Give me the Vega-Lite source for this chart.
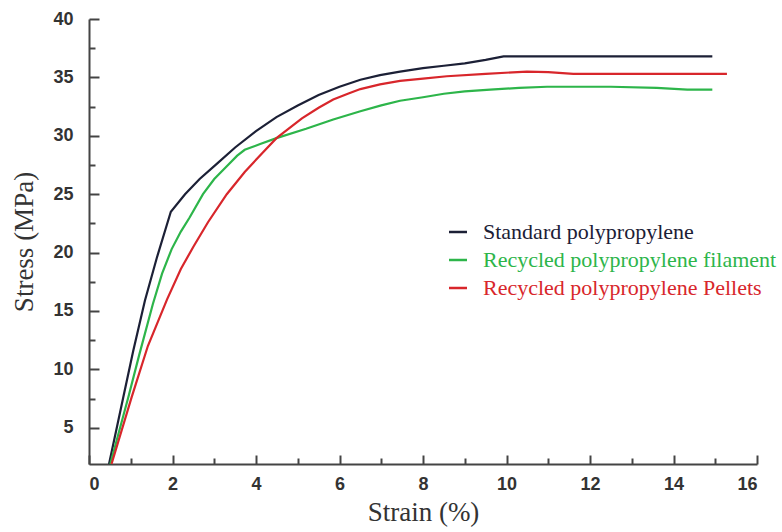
{
  "$schema": "https://vega.github.io/schema/vega-lite/v6.json",
  "width": 668,
  "height": 445,
  "autosize": {"type": "none"},
  "padding": {"left": 89, "top": 19, "right": 25, "bottom": 68},
  "background": "white",
  "config": {"view": {"stroke": null}},
  "data": {"values": [
    {"s": "Standard polypropylene", "x": 0.48, "y": 1.9},
    {"s": "Standard polypropylene", "x": 0.82, "y": 7.6},
    {"s": "Standard polypropylene", "x": 1.06, "y": 11.6},
    {"s": "Standard polypropylene", "x": 1.34, "y": 15.9},
    {"s": "Standard polypropylene", "x": 1.62, "y": 19.5},
    {"s": "Standard polypropylene", "x": 1.96, "y": 23.5},
    {"s": "Standard polypropylene", "x": 2.3, "y": 25.0},
    {"s": "Standard polypropylene", "x": 2.65, "y": 26.3},
    {"s": "Standard polypropylene", "x": 3.06, "y": 27.6},
    {"s": "Standard polypropylene", "x": 3.5, "y": 29.0},
    {"s": "Standard polypropylene", "x": 4.0, "y": 30.4},
    {"s": "Standard polypropylene", "x": 4.49, "y": 31.6},
    {"s": "Standard polypropylene", "x": 5.0, "y": 32.6},
    {"s": "Standard polypropylene", "x": 5.5, "y": 33.5},
    {"s": "Standard polypropylene", "x": 6.0, "y": 34.2},
    {"s": "Standard polypropylene", "x": 6.5, "y": 34.8},
    {"s": "Standard polypropylene", "x": 6.97, "y": 35.2},
    {"s": "Standard polypropylene", "x": 7.45, "y": 35.5},
    {"s": "Standard polypropylene", "x": 8.0, "y": 35.8},
    {"s": "Standard polypropylene", "x": 8.5, "y": 36.0},
    {"s": "Standard polypropylene", "x": 9.0, "y": 36.2},
    {"s": "Standard polypropylene", "x": 9.5, "y": 36.5},
    {"s": "Standard polypropylene", "x": 9.93, "y": 36.8},
    {"s": "Standard polypropylene", "x": 14.93, "y": 36.8},
    {"s": "Recycled polypropylene filament", "x": 0.51, "y": 1.9},
    {"s": "Recycled polypropylene filament", "x": 0.94, "y": 7.6},
    {"s": "Recycled polypropylene filament", "x": 1.2, "y": 11.2},
    {"s": "Recycled polypropylene filament", "x": 1.53, "y": 15.6},
    {"s": "Recycled polypropylene filament", "x": 1.75, "y": 18.2},
    {"s": "Recycled polypropylene filament", "x": 1.98, "y": 20.3},
    {"s": "Recycled polypropylene filament", "x": 2.2, "y": 21.8},
    {"s": "Recycled polypropylene filament", "x": 2.41, "y": 23.0},
    {"s": "Recycled polypropylene filament", "x": 2.73, "y": 25.0},
    {"s": "Recycled polypropylene filament", "x": 3.0, "y": 26.3},
    {"s": "Recycled polypropylene filament", "x": 3.3, "y": 27.4},
    {"s": "Recycled polypropylene filament", "x": 3.55, "y": 28.3},
    {"s": "Recycled polypropylene filament", "x": 3.73, "y": 28.8},
    {"s": "Recycled polypropylene filament", "x": 4.1, "y": 29.3},
    {"s": "Recycled polypropylene filament", "x": 4.49, "y": 29.8},
    {"s": "Recycled polypropylene filament", "x": 5.2, "y": 30.6},
    {"s": "Recycled polypropylene filament", "x": 5.85, "y": 31.4},
    {"s": "Recycled polypropylene filament", "x": 6.5, "y": 32.1},
    {"s": "Recycled polypropylene filament", "x": 7.0, "y": 32.6},
    {"s": "Recycled polypropylene filament", "x": 7.45, "y": 33.0},
    {"s": "Recycled polypropylene filament", "x": 8.0, "y": 33.3},
    {"s": "Recycled polypropylene filament", "x": 8.5, "y": 33.6},
    {"s": "Recycled polypropylene filament", "x": 9.0, "y": 33.8},
    {"s": "Recycled polypropylene filament", "x": 9.61, "y": 33.95},
    {"s": "Recycled polypropylene filament", "x": 10.3, "y": 34.1},
    {"s": "Recycled polypropylene filament", "x": 10.97, "y": 34.2},
    {"s": "Recycled polypropylene filament", "x": 12.5, "y": 34.2},
    {"s": "Recycled polypropylene filament", "x": 13.6, "y": 34.1},
    {"s": "Recycled polypropylene filament", "x": 14.33, "y": 33.95},
    {"s": "Recycled polypropylene filament", "x": 14.93, "y": 33.95},
    {"s": "Recycled polypropylene Pellets", "x": 0.54, "y": 1.9},
    {"s": "Recycled polypropylene Pellets", "x": 1.02, "y": 7.6},
    {"s": "Recycled polypropylene Pellets", "x": 1.41, "y": 12.0},
    {"s": "Recycled polypropylene Pellets", "x": 1.87, "y": 16.0},
    {"s": "Recycled polypropylene Pellets", "x": 2.2, "y": 18.6},
    {"s": "Recycled polypropylene Pellets", "x": 2.5, "y": 20.5},
    {"s": "Recycled polypropylene Pellets", "x": 2.85, "y": 22.6},
    {"s": "Recycled polypropylene Pellets", "x": 3.3, "y": 25.0},
    {"s": "Recycled polypropylene Pellets", "x": 3.73, "y": 26.9},
    {"s": "Recycled polypropylene Pellets", "x": 4.17, "y": 28.6},
    {"s": "Recycled polypropylene Pellets", "x": 4.49, "y": 29.8},
    {"s": "Recycled polypropylene Pellets", "x": 5.1, "y": 31.5},
    {"s": "Recycled polypropylene Pellets", "x": 5.5, "y": 32.4},
    {"s": "Recycled polypropylene Pellets", "x": 5.85, "y": 33.1},
    {"s": "Recycled polypropylene Pellets", "x": 6.2, "y": 33.6},
    {"s": "Recycled polypropylene Pellets", "x": 6.5, "y": 34.0},
    {"s": "Recycled polypropylene Pellets", "x": 6.97, "y": 34.4},
    {"s": "Recycled polypropylene Pellets", "x": 7.45, "y": 34.7},
    {"s": "Recycled polypropylene Pellets", "x": 8.0, "y": 34.9},
    {"s": "Recycled polypropylene Pellets", "x": 8.57, "y": 35.1},
    {"s": "Recycled polypropylene Pellets", "x": 9.5, "y": 35.3},
    {"s": "Recycled polypropylene Pellets", "x": 10.49, "y": 35.5},
    {"s": "Recycled polypropylene Pellets", "x": 11.0, "y": 35.45},
    {"s": "Recycled polypropylene Pellets", "x": 11.6, "y": 35.3},
    {"s": "Recycled polypropylene Pellets", "x": 15.28, "y": 35.3}
  ]},
  "resolve": {"axis": {"x": "independent", "y": "independent"}},
  "layer": [
    {
      "mark": {"type": "line", "strokeWidth": 0, "opacity": 0},
      "encoding": {
        "x": {
          "field": "x", "type": "quantitative",
          "scale": {"domain": [0, 16], "nice": false, "zero": false},
          "axis": {
            "orient": "bottom", "title": null, "labels": false, "domain": false, "grid": false,
            "values": [1, 3, 5, 7, 9, 11, 13, 15],
            "tickColor": "#444", "tickWidth": 2, "tickSize": -6
          }
        },
        "y": {
          "field": "y", "type": "quantitative",
          "scale": {"domain": [1.9, 40], "nice": false, "zero": false},
          "axis": {
            "orient": "left", "title": null, "labels": false, "domain": false, "grid": false,
            "values": [7.5, 12.5, 17.5, 22.5, 27.5, 32.5, 37.5],
            "tickColor": "#444", "tickWidth": 2, "tickSize": -6
          }
        },
        "detail": {"field": "s", "type": "nominal"}
      }
    },
    {
      "mark": {"type": "line", "strokeWidth": 2.2},
      "encoding": {
        "x": {
          "field": "x", "type": "quantitative",
          "scale": {"domain": [0, 16], "nice": false, "zero": false},
          "axis": {
            "orient": "bottom",
            "title": "Strain (%)",
            "values": [0, 2, 4, 6, 8, 10, 12, 14, 16],
            "grid": false,
            "domainColor": "#444", "domainWidth": 2,
            "tickColor": "#444", "tickWidth": 2, "tickSize": -9,
            "labelPadding": 20,
            "labelFont": "Liberation Sans", "labelFontWeight": "bold", "labelFontSize": 18, "labelColor": "#333",
            "titleFont": "Liberation Serif", "titleFontWeight": "normal", "titleFontSize": 27, "titleColor": "#333",
            "titlePadding": 6
          }
        },
        "y": {
          "field": "y", "type": "quantitative",
          "scale": {"domain": [1.9, 40], "nice": false, "zero": false},
          "axis": {
            "orient": "left",
            "title": "Stress (MPa)",
            "values": [5, 10, 15, 20, 25, 30, 35, 40],
            "grid": false,
            "domainColor": "#444", "domainWidth": 2,
            "tickColor": "#444", "tickWidth": 2, "tickSize": -10,
            "labelPadding": 26,
            "labelFont": "Liberation Sans", "labelFontWeight": "bold", "labelFontSize": 18, "labelColor": "#333",
            "titleFont": "Liberation Serif", "titleFontWeight": "normal", "titleFontSize": 27, "titleColor": "#333",
            "titlePadding": 14
          }
        },
        "color": {
          "field": "s", "type": "nominal",
          "scale": {
            "domain": ["Standard polypropylene", "Recycled polypropylene filament", "Recycled polypropylene Pellets"],
            "range": ["#1c2036", "#2db54a", "#d8262b"]
          },
          "legend": {
            "title": null,
            "orient": "none",
            "legendX": 358,
            "legendY": 202,
            "padding": 0,
            "symbolType": "stroke",
            "symbolSize": 324,
            "symbolStrokeWidth": 2.5,
            "labelFont": "Liberation Serif",
            "labelFontSize": 22,
            "labelOffset": 14,
            "rowPadding": 6,
            "labelLimit": 400,
            "encode": {"labels": {"update": {"fill": {"scale": "color", "field": "value"}}}}
          }
        }
      }
    }
  ]
}
